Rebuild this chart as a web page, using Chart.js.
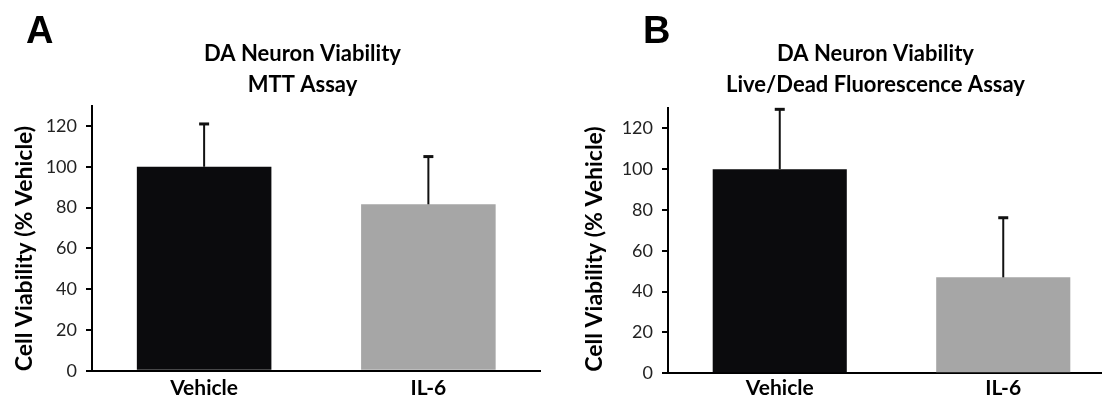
<!DOCTYPE html>
<html>
<head>
<meta charset="utf-8">
<script src="https://cdn.jsdelivr.net/npm/chart.js@4.4.1/dist/chart.umd.min.js"></script>
<style>
  html, body { margin: 0; padding: 0; background: #fff; overflow: hidden; }
  #wrap { position: relative; width: 1102px; height: 400px; overflow: hidden; }
  .panel { position: absolute; top: 0; height: 400px; }
  #panelA { left: 0; width: 551px; }
  #panelB { left: 560px; width: 580px; }
</style>
</head>
<body>
<div id="wrap">
  <div class="panel" id="panelA"><canvas id="chartA" width="551" height="400"></canvas></div>
  <div class="panel" id="panelB"><canvas id="chartB" width="580" height="400"></canvas></div>
</div>
<script>
// data
const categories = ["Vehicle", "IL-6"];
const tickValues = [0, 20, 40, 60, 80, 100, 120];

const mttValues = [100, 81.6];
const mttErrors = [21, 23.4];

const liveDeadValues = [100, 47];
const liveDeadErrors = [29.3, 29.2];

const titleA = ["DA Neuron Viability", "MTT Assay"];
const titleB = ["DA Neuron Viability", "Live/Dead Fluorescence Assay"];
const yTitle = "Cell Viability (% Vehicle)";

const barColors = ["#0b0b0d", "#a6a6a6"];

// upward-only error bars with a small cap
const errorBars = {
  id: "errorBars",
  afterDatasetsDraw(chart, args, opts) {
    const meta = chart.getDatasetMeta(0);
    const y = chart.scales.y;
    const ctx = chart.ctx;
    ctx.save();
    ctx.strokeStyle = "#111";
    meta.data.forEach((bar, i) => {
      const v = chart.data.datasets[0].data[i];
      const top = y.getPixelForValue(v + opts.errors[i]);
      ctx.lineWidth = 2;
      ctx.beginPath();
      ctx.moveTo(bar.x, bar.y);
      ctx.lineTo(bar.x, top);
      ctx.stroke();
      ctx.lineWidth = 3;
      ctx.beginPath();
      ctx.moveTo(bar.x - 5, top);
      ctx.lineTo(bar.x + 5, top);
      ctx.stroke();
    });
    ctx.restore();
  }
};

// panel letter, two-line title and the rotated y title
const panelText = {
  id: "panelText",
  afterDraw(chart, args, opts) {
    const ctx = chart.ctx;
    ctx.save();
    ctx.fillStyle = "#000";
    ctx.textBaseline = "alphabetic";
    ctx.textAlign = "left";
    ctx.font = 'bold 38px "Liberation Sans", Arial, sans-serif';
    ctx.fillText(opts.letter, opts.letterX, 43);

    ctx.textAlign = "center";
    ctx.font = "bold 22px Lato, sans-serif";
    opts.title.forEach((line, i) => {
      ctx.fillText(line, opts.titleX, opts.titleY + i * 31);
    });

    ctx.translate(opts.yTitleX, opts.yTitleY);
    ctx.rotate(-Math.PI / 2);
    ctx.font = "bold 23px Lato, sans-serif";
    ctx.fillText(yTitle, 0, 0);
    ctx.restore();
  }
};

function makeChart(id, values, errors, p) {
  return new Chart(document.getElementById(id), {
    type: "bar",
    data: {
      labels: categories,
      datasets: [{
        data: values,
        backgroundColor: barColors,
        borderWidth: 0,
        barPercentage: 0.6,
        categoryPercentage: 1
      }]
    },
    options: {
      responsive: false,
      animation: false,
      layout: { padding: { left: 0, right: p.padRight, top: p.padTop, bottom: 0 } },
      plugins: {
        legend: { display: false },
        tooltip: { enabled: false },
        title: { display: false },
        errorBars: { errors: errors },
        panelText: p.text
      },
      scales: {
        x: {
          grid: { display: false, drawTicks: false },
          border: { display: true, color: "#000", width: 2 },
          ticks: { color: "#000", font: { family: "Lato", size: 21, weight: "bold" }, padding: p.xPad },
          afterFit: (s) => { s.height = p.xHeight; }
        },
        y: {
          min: 0,
          max: 130,
          afterBuildTicks: (s) => { s.ticks = tickValues.map((v) => ({ value: v })); },
          grid: { display: true, drawOnChartArea: false, drawTicks: true, tickLength: 6, color: "#000", lineWidth: 2 },
          border: { display: true, color: "#000", width: 2 },
          ticks: { color: "#222", font: { family: "Lato", size: 18 }, padding: 9 },
          afterFit: (s) => { s.width = p.yWidth; }
        }
      }
    },
    plugins: [errorBars, panelText]
  });
}

makeChart("chartA", mttValues, mttErrors, {
  padRight: 10.5, padTop: 105.6, xHeight: 29.3, yWidth: 92, xPad: 5,
  text: { letter: "A", letterX: 26, title: titleA, titleX: 302.5, titleY: 61, yTitleX: 31.5, yTitleY: 248.5 }
});

makeChart("chartB", liveDeadValues, liveDeadErrors, {
  padRight: 25, padTop: 107.9, xHeight: 26.7, yWidth: 108, xPad: 2,
  text: { letter: "B", letterX: 83, title: titleB, titleX: 315.5, titleY: 61, yTitleX: 41.7, yTitleY: 249 }
});
</script>
</body>
</html>
